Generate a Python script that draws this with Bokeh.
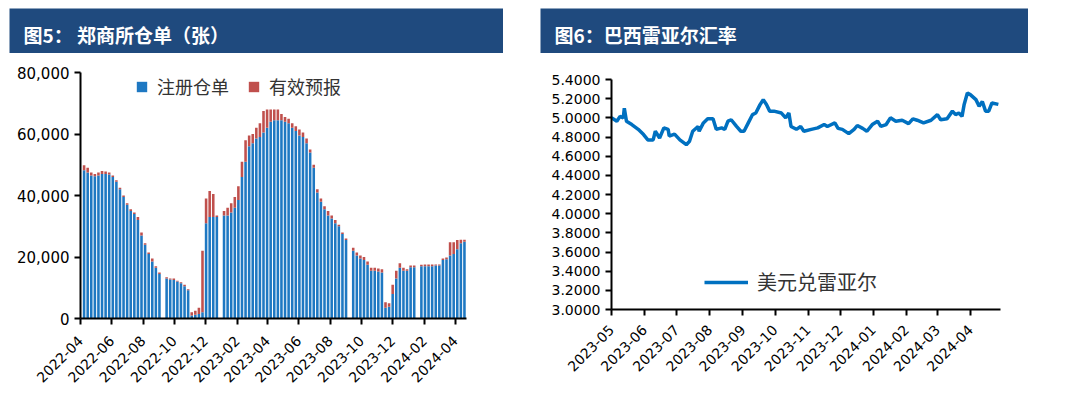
import numpy as np
import pandas as pd
from datetime import datetime
from math import pi
from bokeh.plotting import figure
from bokeh.layouts import row, column
from bokeh.models import (Range1d, FixedTicker, DatetimeTickFormatter, NumeralTickFormatter,
                          Legend, LegendItem, Label, ColumnDataSource, Spacer)
from bokeh.embed import file_html
from bokeh.resources import INLINE

# ---------------- data: 郑商所仓单（张）, weekly ----------------
first_week = "2022-04-08"
registered = [48200, 47500, 46500, 46300, 46500, 47000, 47000, 46800, 46000, 44500,
              42000, 39500, 37000, 35000, 34000, 32000, 27000, 24000, 21000, 18500,
              16500, 14500, None, 13000, 12700, 12500, 12000, 11500, 10500, 9200,
              1000, 1200, 1500, 2000, 31000, 33000, 33000, 33000, None, 33500,
              33500, 34500, 36000, 38500, 46000, 51000, 56000, 57000, 58500, 59000,
              60500, 62000, 64000, 64500, 64500, 64500, 64000, 63500, 62000, 61000,
              59500, 59000, 57000, 54000, 49000, 41000, 38000, 35500, 33500, 32500,
              31000, 30000, 27500, 25500, None, 22000, 20500, 19500, 19000, 17500,
              15500, 15500, 15300, 15000, 3500, 3800, 8000, 13000, 16500, 15500,
              15500, 16700, 16700, None, 17000, 17000, 17000, 17000, 17200, 17200,
              19000, 19300, 20500, 21000, 22500, 24500, 25000]
forecast = [1600, 1500, 1000, 700, 1000, 1000, 800, 700, 500, 500,
            500, 500, 500, 500, 500, 1000, 1000, 500, 500, 1000,
            500, 500, None, 400, 300, 500, 300, 300, 500, 300,
            1000, 1300, 2000, 20000, 8000, 8500, 7500, 500, None, 1500,
            2500, 3000, 3500, 4500, 5000, 7000, 3500, 3000, 3500, 4500,
            7000, 6000, 4000, 3500, 3500, 2000, 1500, 1500, 1500, 1500,
            2000, 1500, 1500, 1000, 1000, 1000, 1000, 1000, 1500, 1000,
            1000, 500, 500, 500, None, 1000, 1000, 1000, 1000, 1000,
            1000, 1000, 1000, 1000, 1800, 1200, 3000, 2500, 1500, 1000,
            500, 500, 500, None, 500, 600, 600, 600, 400, 400,
            500, 500, 4300, 3800, 3000, 1100, 600]
series_names = ["注册仓单", "有效预报"]
left_ticks = ["2022-04", "2022-06", "2022-08", "2022-10", "2022-12", "2023-02", "2023-04",
              "2023-06", "2023-08", "2023-10", "2023-12", "2024-02", "2024-04"]

# ---------------- data: 巴西雷亚尔汇率 ----------------
fx_dates = ["2023-05-01", "2023-05-06", "2023-05-09", "2023-05-12", "2023-05-13", "2023-05-15",
            "2023-05-20", "2023-05-26", "2023-05-31", "2023-06-04", "2023-06-09", "2023-06-11",
            "2023-06-15", "2023-06-19", "2023-06-23", "2023-06-24", "2023-06-29", "2023-07-04",
            "2023-07-10", "2023-07-13", "2023-07-16", "2023-07-21", "2023-07-22", "2023-07-26",
            "2023-07-30", "2023-08-04", "2023-08-07", "2023-08-12", "2023-08-15", "2023-08-18",
            "2023-08-21", "2023-08-26", "2023-08-30", "2023-09-02", "2023-09-06", "2023-09-10",
            "2023-09-13", "2023-09-17", "2023-09-20", "2023-09-23", "2023-09-26", "2023-09-30",
            "2023-10-07", "2023-10-11", "2023-10-14", "2023-10-16", "2023-10-21", "2023-10-25",
            "2023-10-28", "2023-11-04", "2023-11-10", "2023-11-16", "2023-11-19", "2023-11-26",
            "2023-11-29", "2023-12-03", "2023-12-09", "2023-12-14", "2023-12-17", "2023-12-22",
            "2023-12-26", "2023-12-31", "2024-01-05", "2024-01-08", "2024-01-13", "2024-01-17",
            "2024-01-22", "2024-01-28", "2024-02-03", "2024-02-07", "2024-02-11", "2024-02-17",
            "2024-02-24", "2024-03-01", "2024-03-04", "2024-03-10", "2024-03-15", "2024-03-18",
            "2024-03-21", "2024-03-24", "2024-03-26", "2024-03-29", "2024-04-01", "2024-04-06",
            "2024-04-09", "2024-04-12", "2024-04-15", "2024-04-18", "2024-04-21", "2024-04-27"]
fx_values = [5.00, 4.965, 5.015, 5.00, 5.10, 4.965,
             4.93, 4.88, 4.825, 4.77, 4.77, 4.86,
             4.79, 4.895, 4.88, 4.81, 4.83, 4.77,
             4.72, 4.755, 4.86, 4.91, 4.86, 4.947,
             4.99, 4.99, 4.88, 4.895, 4.88, 4.965,
             4.98, 4.91, 4.86, 4.86, 4.947, 5.034,
             5.05, 5.138, 5.19, 5.14, 5.07, 5.07,
             5.05, 5.00, 5.05, 4.91, 4.88, 4.91,
             4.86, 4.88, 4.895, 4.93, 4.91, 4.947,
             4.89, 4.88, 4.835, 4.88, 4.92, 4.89,
             4.86, 4.93, 4.965, 4.91, 4.93, 5.00,
             4.965, 4.975, 4.94, 4.99, 4.975, 4.947,
             4.975, 5.034, 4.98, 4.99, 5.07, 5.034,
             5.05, 5.015, 5.14, 5.26, 5.24, 5.19,
             5.12, 5.17, 5.07, 5.07, 5.155, 5.14]
fx_name = "美元兑雷亚尔"
right_ticks = ["2023-05", "2023-06", "2023-07", "2023-08", "2023-09", "2023-10", "2023-11",
               "2023-12", "2024-01", "2024-02", "2024-03", "2024-04"]
right_y_ticks = [3.0, 3.2, 3.4, 3.6, 3.8, 4.0, 4.2, 4.4, 4.6, 4.8, 5.0, 5.2, 5.4]

# ---------------- styles ----------------
NAVY = "#1F4A7E"
BLUE = "#1E78C2"
RED = "#C0504D"
LINE_BLUE = "#0070C0"
NUM_FONT = "DejaVu Sans"
CJK_FONT = "Noto Sans CJK SC"


def ms(s):
    return pd.Timestamp(s).timestamp() * 1000.0


def title_fig(text, w):
    t = figure(width=w, height=45, toolbar_location=None, output_backend="svg",
               x_axis_type=None, y_axis_type=None, min_border=0,
               min_border_left=0, min_border_right=0, min_border_top=0, min_border_bottom=0,
               background_fill_color=NAVY, border_fill_color=NAVY,
               outline_line_color=None, x_range=(0, 1), y_range=(0, 1))
    t.add_layout(Label(x=14, y=19, x_units="screen", y_units="screen", text=text,
                       text_color="white", text_font=CJK_FONT, text_font_style="bold",
                       text_font_size="19px", text_baseline="middle"))
    return t


def style_axes(p):
    for ax in [p.xaxis[0], p.yaxis[0]]:
        ax.axis_line_width = 2
        ax.axis_line_color = "black"
        ax.major_tick_line_width = 2
        ax.major_tick_line_color = "black"
        ax.major_tick_out = 6
        ax.major_tick_in = 0
        ax.minor_tick_out = 0
        ax.minor_tick_in = 0
        ax.major_label_text_font = NUM_FONT
        ax.major_label_text_font_size = "14px"
        ax.major_label_text_color = "black"
    p.xaxis[0].major_label_orientation = pi / 4
    p.xaxis[0].major_label_standoff = 14
    p.yaxis[0].major_label_text_font_size = "15px"
    p.grid.visible = False
    p.outline_line_color = None


# ---------------- left chart ----------------
weeks = pd.date_range(first_week, periods=len(registered), freq="7D")
src = ColumnDataSource(dict(
    date=weeks,
    reg=[np.nan if v is None else v for v in registered],
    fc=[np.nan if v is None else v for v in forecast],
))

p1 = figure(width=532, height=340, x_axis_type="datetime",
            x_range=Range1d(datetime(2022, 4, 1), datetime(2024, 4, 23)),
            y_range=Range1d(0, 80000), toolbar_location=None, output_backend="svg",
            min_border_left=72, min_border_right=74, min_border_top=19, min_border_bottom=75)
rs = p1.vbar_stack(["reg", "fc"], x="date", width=5 * 86400000, color=[BLUE, RED],
                   line_color=None, source=src)
style_axes(p1)
p1.xaxis[0].ticker = FixedTicker(ticks=[ms(t + "-01") for t in left_ticks])
p1.xaxis[0].formatter = DatetimeTickFormatter(days="%Y-%m", months="%Y-%m", years="%Y-%m")
p1.yaxis[0].ticker = FixedTicker(ticks=[0, 20000, 40000, 60000, 80000])
p1.yaxis[0].formatter = NumeralTickFormatter(format="0,0")
leg1 = Legend(items=[LegendItem(label=series_names[0], renderers=[rs[0]]),
                     LegendItem(label=series_names[1], renderers=[rs[1]])],
              location=(55, 219), orientation="horizontal", background_fill_alpha=0,
              border_line_color=None, padding=0, margin=0, spacing=18, label_standoff=9,
              glyph_width=13, glyph_height=13, label_text_font=CJK_FONT,
              label_text_font_size="18px", label_text_color="#333333")
p1.add_layout(leg1)

# ---------------- right chart ----------------
p2 = figure(width=521, height=340, x_axis_type="datetime",
            x_range=Range1d(datetime(2023, 5, 1), datetime(2024, 4, 29)),
            y_range=Range1d(3.0, 5.4), toolbar_location=None, output_backend="svg",
            min_border_left=71, min_border_right=61, min_border_top=26, min_border_bottom=84)
ln = p2.line(pd.to_datetime(fx_dates), fx_values, line_width=3.5, color=LINE_BLUE)
style_axes(p2)
p2.xaxis[0].major_label_standoff = 12
p2.yaxis[0].major_label_text_font_size = "14px"
p2.xaxis[0].ticker = FixedTicker(ticks=[ms(t + "-01") for t in right_ticks])
p2.xaxis[0].formatter = DatetimeTickFormatter(days="%Y-%m", months="%Y-%m", years="%Y-%m")
p2.yaxis[0].ticker = FixedTicker(ticks=right_y_ticks)
p2.yaxis[0].formatter = NumeralTickFormatter(format="0.0000")
leg2 = Legend(items=[LegendItem(label=fx_name, renderers=[ln])],
              location=(93, 13), orientation="horizontal", background_fill_alpha=0,
              border_line_color=None, padding=0, margin=0, label_standoff=9,
              glyph_width=44, glyph_height=20, label_text_font=CJK_FONT,
              label_text_font_size="20px", label_text_color="#333333")
p2.add_layout(leg2)

t1 = title_fig("图5：    郑商所仓单（张）", 494)
t2 = title_fig("图6：巴西雷亚尔汇率", 488)

layout = column(
    Spacer(width=1053, height=8),
    row(Spacer(width=9, height=45), column(t1), Spacer(width=37, height=45), column(t2)),
    row(Spacer(width=8, height=340), column(p1), column(p2)),
)
open("out.html", "w").write(file_html(layout, INLINE))
